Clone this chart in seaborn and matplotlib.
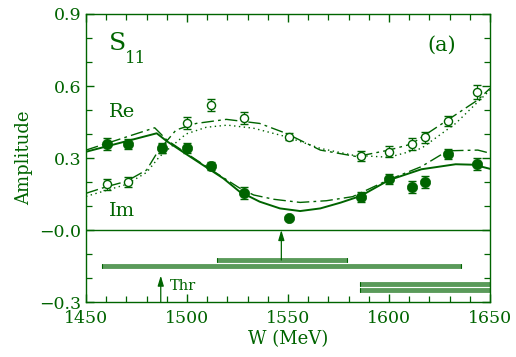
import numpy as np
import pandas as pd
import matplotlib
matplotlib.use("Agg")
import matplotlib.pyplot as plt
import seaborn as sns
from matplotlib.ticker import MultipleLocator

# ---- data ----
w_im = [1460.4, 1470.8, 1487.6, 1500.0, 1511.9, 1528.0, 1550.5, 1586.0, 1600.0, 1611.4, 1617.9, 1629.0, 1643.4]
a_im = [0.358, 0.358, 0.342, 0.342, 0.267, 0.154, 0.050, 0.137, 0.212, 0.180, 0.200, 0.316, 0.274]
e_im = [0.025, 0.020, 0.020, 0.020, 0.015, 0.025, 0.010, 0.022, 0.022, 0.025, 0.025, 0.020, 0.025]

w_re = [1460.4, 1470.8, 1487.6, 1500.0, 1511.9, 1528.0, 1550.5, 1586.0, 1600.0, 1611.4, 1617.9, 1629.0, 1643.4]
a_re = [0.190, 0.199, 0.340, 0.447, 0.520, 0.465, 0.389, 0.308, 0.326, 0.357, 0.386, 0.454, 0.576]
e_re = [0.022, 0.020, 0.020, 0.025, 0.025, 0.025, 0.015, 0.022, 0.022, 0.025, 0.022, 0.020, 0.030]

# curves
im_solid_w = [1450, 1485, 1490, 1500, 1510, 1518, 1526, 1536, 1546, 1556, 1566, 1576, 1586, 1600, 1616, 1633, 1642, 1650]
im_solid_a = [0.326, 0.403, 0.370, 0.314, 0.259, 0.215, 0.160, 0.118, 0.090, 0.079, 0.090, 0.114, 0.142, 0.208, 0.253, 0.274, 0.272, 0.255]

im_dd_w = [1450, 1484, 1490, 1500, 1510, 1518, 1526, 1533, 1543, 1556, 1569, 1582, 1600, 1616, 1629, 1644, 1650]
im_dd_a = [0.333, 0.426, 0.375, 0.318, 0.262, 0.218, 0.175, 0.146, 0.128, 0.115, 0.122, 0.139, 0.210, 0.264, 0.330, 0.333, 0.320]

re_dash_w = [1450, 1460, 1470, 1480, 1485.5, 1494.6, 1504.5, 1519.5, 1536, 1549, 1566, 1584, 1600, 1611, 1629, 1644, 1650]
re_dash_a = [0.153, 0.180, 0.203, 0.250, 0.326, 0.417, 0.444, 0.461, 0.444, 0.403, 0.333, 0.306, 0.333, 0.358, 0.458, 0.542, 0.590]

re_dot_w = [1450, 1460, 1470, 1480, 1486.3, 1499.5, 1509.5, 1520, 1533, 1549, 1566, 1582, 1600, 1616, 1633, 1650]
re_dot_a = [0.140, 0.165, 0.190, 0.240, 0.305, 0.400, 0.428, 0.437, 0.424, 0.389, 0.340, 0.312, 0.303, 0.340, 0.444, 0.583]

# horizontal bars at bottom: (start, end, level)
bar_start = [1514.7, 1457.8, 1585.8, 1585.8]
bar_end = [1579.0, 1635.8, 1650.0, 1650.0]
bar_level = [-0.125, -0.151, -0.226, -0.251]

pole_w = 1546.7
thr_w = 1487.0

dark = "#006400"
light = "#5a9a5a"

sns.set_theme(style="ticks")
plt.rcParams['font.family'] = ['DejaVu Serif']
plt.rcParams['mathtext.fontset'] = 'dejavuserif'

fig = plt.figure(figsize=(5.16, 3.57), dpi=100)
ax = fig.add_axes([0.1667, 0.154, 0.7829, 0.8068])

curves = pd.DataFrame({
    "W": im_solid_w + im_dd_w + re_dash_w + re_dot_w,
    "A": im_solid_a + im_dd_a + re_dash_a + re_dot_a,
    "c": ["ims"] * len(im_solid_w) + ["imd"] * len(im_dd_w) + ["red"] * len(re_dash_w) + ["ret"] * len(re_dot_w),
})
styles = {"ims": ("-", 1.4), "imd": ((0, (9, 3, 2, 3)), 1.0), "red": ((0, (9, 3, 2, 3)), 1.0), "ret": ((0, (1, 2.5)), 1.0)}
for key, (ls, lw) in styles.items():
    sub = curves[curves.c == key]
    sns.lineplot(data=sub, x="W", y="A", ax=ax, color=dark, lw=lw, sort=False,
                 linestyle=ls, legend=False)

# zero line
ax.axhline(0.0, color=dark, lw=1.0)

# bars
for s, e, l in zip(bar_start, bar_end, bar_level):
    ax.plot([s, e], [l, l], color=light, lw=3.5, solid_capstyle="butt", zorder=2)
    ax.plot([s, s], [l - 0.008, l + 0.008], color=dark, lw=0.8)
    ax.plot([e, e], [l - 0.008, l + 0.008], color=dark, lw=0.8)

# arrows
ax.annotate("", xy=(pole_w, 0.0), xytext=(pole_w, bar_level[0]),
            arrowprops=dict(arrowstyle="-|>,head_length=0.5,head_width=0.15", color=dark, lw=0.9, shrinkA=0, shrinkB=0))
ax.annotate("", xy=(thr_w, -0.19), xytext=(thr_w, -0.3),
            arrowprops=dict(arrowstyle="-|>,head_length=0.5,head_width=0.15", color=dark, lw=0.9, shrinkA=0, shrinkB=0))
ax.text(1491.5, -0.233, "Thr", color=dark, fontsize=10.5, va="center", ha="left")

# data points
ax.errorbar(w_re, a_re, yerr=e_re, fmt="none", ecolor=dark, elinewidth=0.9, capsize=3, zorder=3)
sns.scatterplot(x=w_re, y=a_re, ax=ax, marker="o", s=34, facecolor="white", edgecolor=dark, linewidth=1.0, zorder=4)
ax.errorbar(w_im, a_im, yerr=e_im, fmt="none", ecolor=dark, elinewidth=0.9, capsize=3, zorder=5)
sns.scatterplot(x=w_im, y=a_im, ax=ax, marker="o", s=55, color=dark, edgecolor=dark, linewidth=0.5, zorder=6)

# labels inside
ax.text(1461.5, 0.775, "S", color=dark, fontsize=18, va="center", ha="left")
ax.text(1469.5, 0.715, "11", color=dark, fontsize=12, va="center", ha="left")
ax.text(1619, 0.77, "(a)", color=dark, fontsize=15, va="center", ha="left")
ax.text(1461.5, 0.49, "Re", color=dark, fontsize=14, va="center", ha="left")
ax.text(1461.5, 0.08, "Im", color=dark, fontsize=14, va="center", ha="left")

ax.set_xlim(1450, 1650)
ax.set_ylim(-0.3, 0.9)
ax.xaxis.set_minor_locator(MultipleLocator(10))
ax.yaxis.set_minor_locator(MultipleLocator(0.1))
ax.set_yticks([-0.3, 0.0, 0.3, 0.6, 0.9])
ax.set_yticklabels(["\u22120.3", "\u22120.0", "0.3", "0.6", "0.9"])
ax.set_xticks([1450, 1500, 1550, 1600, 1650])
ax.set_xticklabels(["1450", "1500", "1550", "1600", "1650"])

ax.tick_params(which="both", direction="in", top=True, right=True, colors=dark, labelcolor=dark, labelsize=12.5)
ax.tick_params(which="major", length=6, width=1.0)
ax.tick_params(which="minor", length=4, width=0.9)
ax.tick_params(axis="x", pad=6)
for sp in ax.spines.values():
    sp.set_color(dark)
    sp.set_linewidth(1.0)

ax.set_xlabel("W (MeV)", color=dark, fontsize=13, labelpad=2)
ax.set_ylabel("Amplitude", color=dark, fontsize=13, labelpad=4)

fig.savefig("out.png", dpi=100)
